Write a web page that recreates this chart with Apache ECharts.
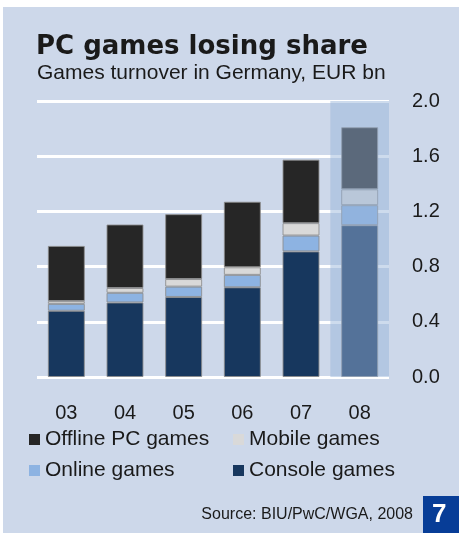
<!DOCTYPE html>
<html>
<head>
<meta charset="utf-8">
<script src="https://cdn.jsdelivr.net/npm/echarts@6/dist/echarts.min.js"></script>
<style>
  html, body { margin: 0; padding: 0; background: #ffffff; width: 459px; height: 533px; overflow: hidden; }
  #chart { position: absolute; left: 3px; top: 7px; width: 456px; height: 526px; background: #CDD8EA; }
</style>
</head>
<body>
<div id="chart"></div>
<script>
// ---- data ----
const categories = ['03', '04', '05', '06', '07', '08'];
const consoleGames = [0.48, 0.54, 0.58, 0.65, 0.91, 1.10];
const onlineGames  = [0.05, 0.07, 0.075, 0.09, 0.115, 0.145];
const mobileGames  = [0.02, 0.035, 0.055, 0.055, 0.09, 0.115];
const offlinePC    = [0.40, 0.46, 0.47, 0.475, 0.46, 0.45];
const yTicks = [0.0, 0.4, 0.8, 1.2, 1.6, 2.0];
const highlightCategory = '08';
const legendCol1 = ['Offline PC games', 'Online games'];
const legendCol2 = ['Mobile games', 'Console games'];

const yMax = yTicks[yTicks.length - 1];
const FONT = '"Liberation Sans", Arial, sans-serif';
const textColor = '#1a1a1a';
const barBorder = { borderColor: 'rgba(140,140,140,0.85)', borderWidth: 1 };

function barSeries(name, data, color) {
  return {
    name: name, type: 'bar', stack: 'total', data: data,
    barWidth: '63%', xAxisIndex: 0, z: 2,
    itemStyle: Object.assign({ color: color }, barBorder),
    emphasis: { disabled: true }
  };
}

const chart = echarts.init(document.getElementById('chart'), null, { renderer: 'canvas' });
chart.setOption({
  backgroundColor: 'transparent',
  animation: false,
  title: [
    { text: 'PC games losing share', left: 33, top: 27, padding: 0,
      textStyle: { fontFamily: '"DejaVu Sans", sans-serif', fontWeight: 'bold', fontSize: 26, color: '#1a1a1a' } },
    { text: 'Games turnover in Germany, EUR bn', left: 34, top: 56, padding: 0,
      textStyle: { fontFamily: FONT, fontWeight: 'normal', fontSize: 21, color: textColor } },
    { text: 'Source: BIU/PwC/WGA, 2008', right: 46, top: 500, padding: 0,
      textStyle: { fontFamily: FONT, fontWeight: 'normal', fontSize: 16, color: textColor } }
  ],
  legend: [
    { data: legendCol1, orient: 'vertical', left: 21, top: 417, itemWidth: 11, itemHeight: 11, itemGap: 10,
      icon: 'rect', selectedMode: false,
      itemStyle: { borderWidth: 0 },
      textStyle: { fontFamily: FONT, fontSize: 21, color: textColor, lineHeight: 21 } },
    { data: legendCol2, orient: 'vertical', left: 225, top: 417, itemWidth: 11, itemHeight: 11, itemGap: 10,
      icon: 'rect', selectedMode: false,
      itemStyle: { borderWidth: 0 },
      textStyle: { fontFamily: FONT, fontSize: 21, color: textColor, lineHeight: 21 } }
  ],
  grid: { left: 34, right: 70, top: 94, bottom: 156, containLabel: false },
  xAxis: [
    { type: 'category', data: categories, gridIndex: 0,
      axisLine: { show: false }, axisTick: { show: false },
      axisLabel: { fontFamily: FONT, fontSize: 20, color: textColor, margin: 26 } },
    { type: 'category', data: categories, gridIndex: 0, show: false }
  ],
  yAxis: {
    type: 'value', position: 'right', min: 0, max: yMax, interval: 0.4,
    axisLine: { show: false }, axisTick: { show: false },
    axisLabel: { fontFamily: FONT, fontSize: 20, color: textColor, margin: 23,
      formatter: v => v.toFixed(1) },
    splitLine: { show: true, lineStyle: { color: '#ffffff', width: 3 } }
  },
  series: [
    barSeries('Console games', consoleGames, '#17375E'),
    barSeries('Online games', onlineGames, '#8DB3E2'),
    barSeries('Mobile games', mobileGames, '#D9D9D9'),
    barSeries('Offline PC games', offlinePC, '#262626'),
    {
      name: 'highlight', type: 'bar', xAxisIndex: 1, barWidth: '100%', z: 5, silent: true,
      data: categories.map(c => c === highlightCategory ? yMax : null),
      itemStyle: { color: 'rgba(151,179,217,0.48)' },
      emphasis: { disabled: true }
    }
  ],
  graphic: [
    { type: 'rect', left: 420, top: 489, shape: { width: 36, height: 37 }, style: { fill: '#073D97' }, z: 10 },
    { type: 'text', left: 429, top: 495,
      style: { text: '7', fill: '#ffffff', font: 'bold 26px "Liberation Sans", Arial, sans-serif' }, z: 11 }
  ]
});
</script>
</body>
</html>
